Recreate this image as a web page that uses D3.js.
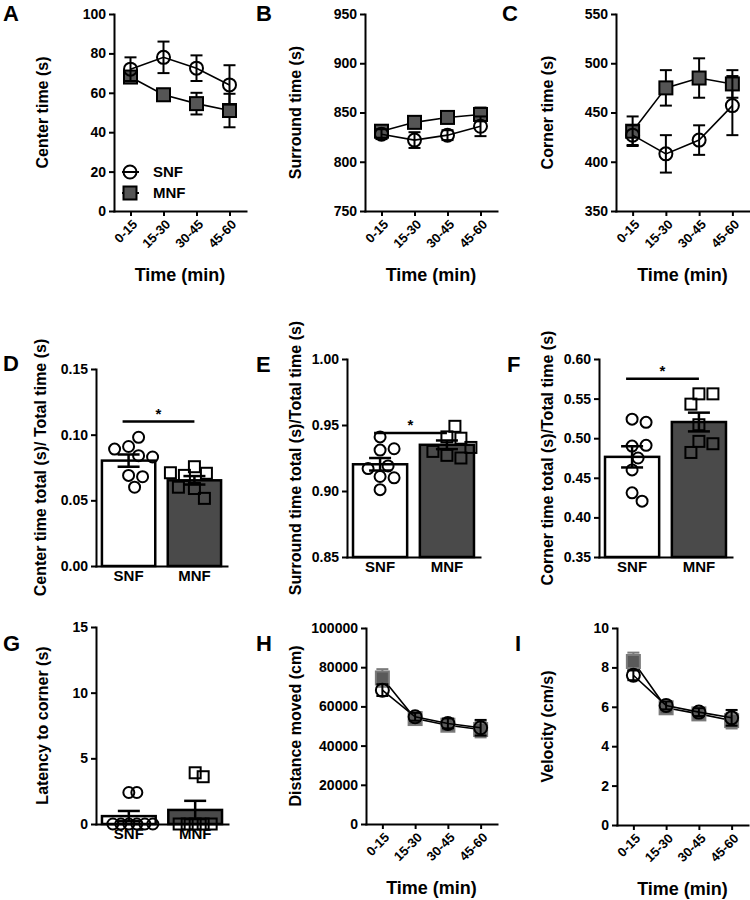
<!DOCTYPE html>
<html>
<head>
<meta charset="utf-8">
<script src="https://cdn.jsdelivr.net/npm/d3@7"></script>
<style>
  body { margin: 0; background: #fff; }
  svg text { font-family: "Liberation Sans", Arial, sans-serif; font-weight: bold; fill: #000; }
</style>
</head>
<body>
<svg id="fig" width="750" height="900"></svg>
<script>
// values
const timeBins = ["0-15", "15-30", "30-45", "45-60"];
const groups = ["SNF", "MNF"];

const centerSNF = [72, 78, 72.5, 64];
const centerSNFsem = [6, 8, 6.5, 10];
const centerMNF = [68, 59, 54.5, 51];
const centerMNFsem = [3, 3, 5.5, 8.5];

const surroundSNF = [828, 822, 827, 836];
const surroundSNFsem = [5, 8, 5, 10];
const surroundMNF = [831, 840, 845, 848];
const surroundMNFsem = [5, 4, 4, 7];

const cornerSNF = [427, 408, 422, 457];
const cornerSNFsem = [10, 19, 15, 30];
const cornerMNF = [431, 475, 485, 479];
const cornerMNFsem = [15, 18, 20, 14];

const distanceSNF = [68300, 54700, 51300, 49100];
const distanceSNFsem = [3000, 2000, 2500, 4000];
const distanceMNF = [74500, 53800, 50400, 48200];
const distanceMNFsem = [4500, 2000, 2000, 4000];

const velocitySNF = [7.6, 6.07, 5.73, 5.44];
const velocitySNFsem = [0.25, 0.2, 0.2, 0.4];
const velocityMNF = [8.3, 5.95, 5.64, 5.3];
const velocityMNFsem = [0.45, 0.2, 0.2, 0.4];

// individual animals for the bar panels
const centerRatioSNF = [0.091, 0.098, 0.089, 0.084, 0.083, 0.069, 0.068, 0.060];
const centerRatioMNF = [0.0756, 0.0706, 0.069, 0.071, 0.059, 0.0515, 0.060];
const surroundRatioSNF = [0.941, 0.931, 0.932, 0.911, 0.919, 0.917, 0.910, 0.901];
const surroundRatioMNF = [0.941, 0.940, 0.949, 0.927, 0.925, 0.930, 0.933];
const cornerRatioSNF = [0.524, 0.520, 0.490, 0.491, 0.475, 0.460, 0.431, 0.4205];
const cornerRatioMNF = [0.556, 0.556, 0.543, 0.517, 0.496, 0.493, 0.482];
const latencySNF = [2.4, 2.4, 0, 0, 0, 0, 0, 0];
const latencyMNF = [3.9, 3.6, 0, 0, 0, 0, 0];

const svg = d3.select("#fig");
const dark = "#4a4a4a";

function styleAxis(g, size) {
  g.attr("font-family", null).attr("font-size", null);
  g.select(".domain").attr("stroke", "#000").attr("stroke-width", 2).attr("stroke-linecap", "square");
  g.selectAll(".tick line").attr("stroke", "#000").attr("stroke-width", 2);
  g.selectAll(".tick text").style("font-size", size + "px");
}

function yAxis(p, y) {
  const g = svg.append("g").attr("transform", `translate(${p.x0},0)`)
    .call(d3.axisLeft(y).tickValues(p.ticks).tickSize(5).tickSizeOuter(0).tickPadding(3).tickFormat(p.fmt));
  styleAxis(g, 14);
  svg.append("text")
    .attr("transform", `translate(${p.titleX},${(p.yTop + p.yBot) / 2}) rotate(-90)`)
    .attr("text-anchor", "middle").attr("dy", "0.35em")
    .style("font-size", "16px").text(p.title);
  svg.append("text").attr("x", p.letterX).attr("y", p.letterY)
    .style("font-size", "22px").text(p.letter);
}

function circle(g, cx, cy, r, stroke) {
  g.append("circle").attr("cx", cx).attr("cy", cy).attr("r", r)
    .attr("fill", "none").attr("stroke", stroke || "#000").attr("stroke-width", 2);
}
function square(g, cx, cy, s, fill, stroke) {
  g.append("rect").attr("x", cx - s / 2).attr("y", cy - s / 2).attr("width", s).attr("height", s)
    .attr("fill", fill).attr("stroke", stroke || "#000").attr("stroke-width", 2);
}
function errBar(g, cx, y, v, e, cap, stroke, w) {
  g.append("line").attr("x1", cx).attr("x2", cx).attr("y1", y(v - e)).attr("y2", y(v + e));
  [v - e, v + e].forEach(t => g.append("line")
    .attr("x1", cx - cap / 2).attr("x2", cx + cap / 2).attr("y1", y(t)).attr("y2", y(t)));
  g.selectAll("line").attr("stroke", stroke).attr("stroke-width", w);
}

function linePanel(p) {
  const x = d3.scalePoint().domain(timeBins).range([p.x0, p.x1]).padding(0.5);
  const y = d3.scaleLinear().domain(p.domain).range([p.yBot, p.yTop]);

  yAxis(p, y);
  const gx = svg.append("g").attr("transform", `translate(0,${p.yBot})`)
    .call(d3.axisBottom(x).tickSize(5).tickSizeOuter(0));
  styleAxis(gx, 13);
  gx.selectAll(".tick text")
    .attr("y", null).attr("dy", "0.35em").attr("text-anchor", "end")
    .attr("transform", "translate(4,11) rotate(-45)");
  svg.append("text").attr("x", (p.x0 + p.x1) / 2).attr("y", p.yBot + 70)
    .attr("text-anchor", "middle").style("font-size", "18px").text("Time (min)");

  const line = d3.line().x((d, i) => x(timeBins[i])).y(d => y(d));
  const series = [
    { vals: p.mnf, errs: p.mnfErr, kind: "sq" },
    { vals: p.snf, errs: p.snfErr, kind: "ci" }
  ];
  series.forEach(s => {
    const g = svg.append("g");
    g.append("path").datum(s.vals).attr("d", line)
      .attr("fill", "none").attr("stroke", "#000").attr("stroke-width", 1.6);
    const edge = s.kind === "sq" ? (p.sqStroke || "#000") : "#000";
    s.vals.forEach((v, i) => errBar(g.append("g"), x(timeBins[i]), y, v, s.errs[i], 12, edge, 2));
    s.vals.forEach((v, i) => {
      if (s.kind === "sq") square(g, x(timeBins[i]), y(v), 13, p.sqFill || "#555", edge);
      else circle(g, x(timeBins[i]), y(v), 6.5);
    });
  });

  if (p.legend) {
    const lg = svg.append("g");
    [["SNF", 172], ["MNF", 193]].forEach(([name, ly]) => {
      lg.append("line").attr("x1", 122).attr("x2", 139).attr("y1", ly).attr("y2", ly)
        .attr("stroke", "#000").attr("stroke-width", 2);
      if (name === "SNF") circle(lg, 130, ly, 6.5); else square(lg, 130, ly, 13, "#555");
      lg.append("text").attr("x", 153).attr("y", ly + 5).style("font-size", "15px").text(name);
    });
  }
}

// simple column scatter: push points sideways until they stop overlapping
function swarm(vals, y, cx, minD) {
  const placed = [];
  return vals.map(v => {
    const py = y(v);
    let px = cx;
    for (let k = 0; k < 80; k++) {
      const off = k === 0 ? 0 : (k % 2 ? 1 : -1) * Math.ceil(k / 2) * 2;
      const hit = placed.some(q => (q[0] - cx - off) ** 2 + (q[1] - py) ** 2 < minD * minD);
      if (!hit) { px = cx + off; break; }
    }
    placed.push([px, py]);
    return [px, py];
  });
}

function barPanel(p) {
  const x = d3.scaleBand().domain(groups).range([p.x0, p.x1]).paddingInner(0.19).paddingOuter(0.09);
  const y = d3.scaleLinear().domain(p.domain).range([p.yBot, p.yTop]);

  yAxis(p, y);
  const gx = svg.append("g").attr("transform", `translate(0,${p.yBot})`)
    .call(d3.axisBottom(x).tickSize(0).tickSizeOuter(0).tickPadding(4));
  styleAxis(gx, 15);

  const sets = [
    { name: "SNF", vals: p.snf, fill: "#fff", kind: "ci" },
    { name: "MNF", vals: p.mnf, fill: dark, kind: "sq" }
  ];
  sets.forEach(s => {
    const m = d3.mean(s.vals);
    const sem = d3.deviation(s.vals) / Math.sqrt(s.vals.length);
    const cx = x(s.name) + x.bandwidth() / 2;
    const g = svg.append("g");
    g.append("rect").attr("x", x(s.name)).attr("y", y(m))
      .attr("width", x.bandwidth()).attr("height", y(p.domain[0]) - y(m))
      .attr("fill", s.fill).attr("stroke", "#000").attr("stroke-width", 2.5);
    swarm(s.vals, y, cx, p.spread || 13).forEach(([px, py]) => {
      if (s.kind === "ci") circle(g, px, py, 5.5);
      else square(g, px, py, 11, "none");
    });
    errBar(g.append("g"), cx, y, m, sem, 22, "#000", 2.5);
  });

  if (p.sig != null) {
    const xa = x("SNF") + x.bandwidth() / 2 - 6, xb = x("MNF") + x.bandwidth() / 2;
    svg.append("line").attr("x1", xa).attr("x2", xb).attr("y1", y(p.sig)).attr("y2", y(p.sig))
      .attr("stroke", "#000").attr("stroke-width", 2.5);
    svg.append("text").attr("x", (xa + xb) / 2).attr("y", y(p.sig) - 3)
      .attr("text-anchor", "middle").style("font-size", "15px").text("*");
  }
}

const fInt = d3.format("d"), f2 = d3.format(".2f");

linePanel({ letter: "A", letterX: 3, letterY: 21, x0: 114, x1: 246, yTop: 14, yBot: 211, titleX: 42,
  domain: [0, 100], ticks: d3.range(0, 101, 20), fmt: fInt, title: "Center time (s)",
  snf: centerSNF, snfErr: centerSNFsem, mnf: centerMNF, mnfErr: centerMNFsem, legend: true });
linePanel({ letter: "B", letterX: 256, letterY: 21, x0: 365, x1: 497, yTop: 14, yBot: 211, titleX: 295,
  domain: [750, 950], ticks: d3.range(750, 951, 50), fmt: fInt, title: "Surround time (s)",
  snf: surroundSNF, snfErr: surroundSNFsem, mnf: surroundMNF, mnfErr: surroundMNFsem });
linePanel({ letter: "C", letterX: 502, letterY: 21, x0: 616, x1: 749, yTop: 14, yBot: 211, titleX: 547,
  domain: [350, 550], ticks: d3.range(350, 551, 50), fmt: fInt, title: "Corner time (s)",
  snf: cornerSNF, snfErr: cornerSNFsem, mnf: cornerMNF, mnfErr: cornerMNFsem });

barPanel({ letter: "D", letterX: 3, letterY: 371, x0: 96, x1: 227, yTop: 369, yBot: 566, titleX: 40,
  domain: [0, 0.15], ticks: [0, 0.05, 0.10, 0.15], fmt: f2, title: "Center time total (s)/ Total time (s)",
  snf: centerRatioSNF, mnf: centerRatioMNF, sig: 0.110 });
barPanel({ letter: "E", letterX: 256, letterY: 372, x0: 347, x1: 480, yTop: 359, yBot: 557, titleX: 295,
  domain: [0.85, 1.0], ticks: [0.85, 0.90, 0.95, 1.00], fmt: f2, title: "Surround time total (s)/Total time (s)",
  snf: surroundRatioSNF, mnf: surroundRatioMNF, sig: 0.944 });
barPanel({ letter: "F", letterX: 507, letterY: 372, x0: 599, x1: 732, yTop: 359, yBot: 557, titleX: 547,
  domain: [0.35, 0.60], ticks: [0.35, 0.40, 0.45, 0.50, 0.55, 0.60], fmt: f2, title: "Corner time total (s)/Total time (s)",
  snf: cornerRatioSNF, mnf: cornerRatioMNF, sig: 0.575 });

barPanel({ letter: "G", letterX: 3, letterY: 651, x0: 96, x1: 228, yTop: 627, yBot: 824, titleX: 42,
  domain: [0, 15], ticks: [0, 5, 10, 15], fmt: fInt, title: "Latency to corner (s)",
  snf: latencySNF, mnf: latencyMNF, sig: null, spread: 8 });
linePanel({ letter: "H", letterX: 256, letterY: 651, x0: 366, x1: 497, yTop: 628, yBot: 824, titleX: 295,
  domain: [0, 100000], ticks: d3.range(0, 100001, 20000), fmt: fInt, title: "Distance moved (cm)",
  snf: distanceSNF, snfErr: distanceSNFsem, mnf: distanceMNF, mnfErr: distanceMNFsem,
  sqFill: "#5a5a5a", sqStroke: "#7a7a7a" });
linePanel({ letter: "I", letterX: 515, letterY: 651, x0: 617, x1: 748, yTop: 628, yBot: 825, titleX: 547,
  domain: [0, 10], ticks: d3.range(0, 11, 2), fmt: fInt, title: "Velocity (cm/s)",
  snf: velocitySNF, snfErr: velocitySNFsem, mnf: velocityMNF, mnfErr: velocityMNFsem,
  sqFill: "#5a5a5a", sqStroke: "#7a7a7a" });
</script>
</body>
</html>
